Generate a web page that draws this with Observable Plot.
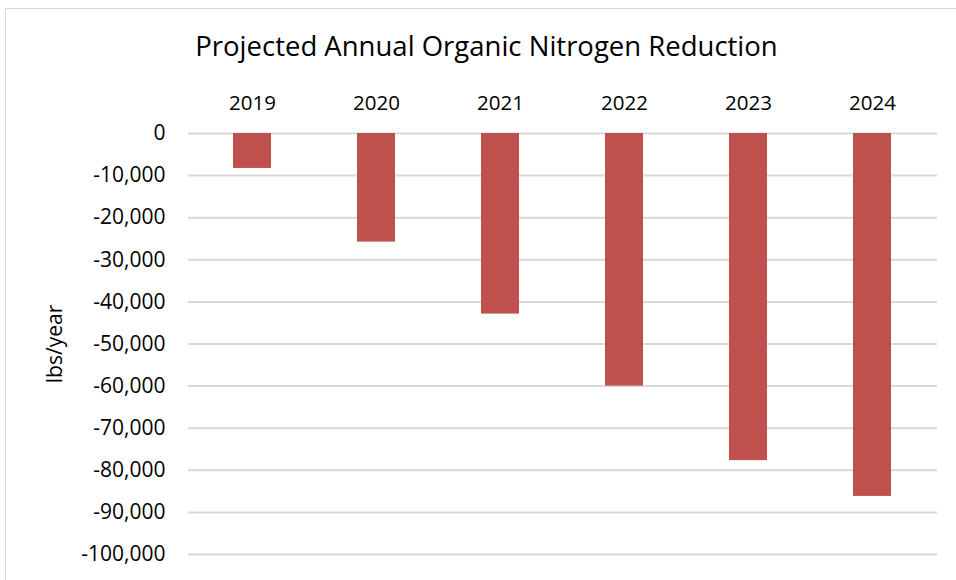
<!DOCTYPE html>
<html>
<head>
<meta charset="utf-8">
<script src="https://cdn.jsdelivr.net/npm/d3@7"></script>
<script src="https://cdn.jsdelivr.net/npm/@observablehq/plot@0.6"></script>
<style>
  html, body { margin: 0; padding: 0; background: #fff; overflow: hidden; }
  #wrap { position: relative; width: 956px; height: 580px; overflow: hidden; font-family: "Open Sans", sans-serif; }
  #border { position: absolute; left: 5px; top: 8px; width: 2000px; height: 2000px; border-left: 1px solid #d9d9d9; border-top: 1px solid #d9d9d9; box-sizing: border-box; }
  #title { position: absolute; left: 486.5px; top: 32px; transform: translateX(-50%); white-space: nowrap; font-size: 27.5px; line-height: 28px; color: #000; }
  #chart { position: absolute; left: 0; top: 0; }
</style>
</head>
<body>
<div id="wrap">
  <div id="border"></div>
  <div id="title">Projected Annual Organic Nitrogen Reduction</div>
  <div id="chart"></div>
</div>
<script>
const years = ["2019", "2020", "2021", "2022", "2023", "2024"];
const values = [-8300, -25800, -42900, -60000, -77700, -86200];
const yTicks = [0, -10000, -20000, -30000, -40000, -50000, -60000, -70000, -80000, -90000, -100000];
const yLabel = "lbs/year";

const data = years.map((year, i) => ({year, value: values[i]}));
const fmt = d => d3.format(",")(d).replace("\u2212", "-");

const chart = Plot.plot({
  width: 956,
  height: 580,
  marginLeft: 188,
  marginRight: 19,
  marginTop: 133,
  marginBottom: 26,
  style: {fontFamily: "Open Sans", fontSize: "21px", color: "#000", background: "transparent", overflow: "visible"},
  x: {domain: years, paddingInner: 0.69, paddingOuter: 0.345},
  y: {domain: [-100000, 0]},
  marks: [
    Plot.gridY(yTicks, {stroke: "#d9d9d9", strokeWidth: 2, strokeOpacity: 1}),
    Plot.barY(data, {x: "year", y: "value", fill: "#C0504D"}),
    Plot.axisX({anchor: "top", tickSize: 0, tickPadding: 24, fontSize: 20.5, fill: "#000", label: null}),
    Plot.axisY(yTicks, {anchor: "left", tickSize: 0, tickPadding: 23, tickFormat: fmt, fontSize: 21, fill: "#000",
      label: yLabel, labelAnchor: "center", labelArrow: "none", labelOffset: 141})
  ]
});
document.getElementById("chart").appendChild(chart);
</script>
</body>
</html>
